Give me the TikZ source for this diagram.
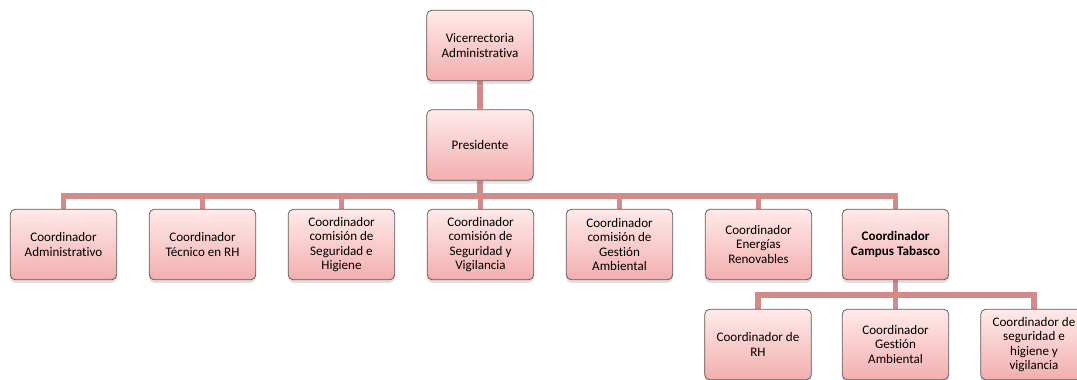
\documentclass[tikz,border=0pt]{standalone}
\usepackage{fontspec}
\setmainfont[Ligatures={NoCommon}]{Carlito}
\usetikzlibrary{shadows,backgrounds}

\definecolor{cajaArriba}{HTML}{FFEAEA}
\definecolor{cajaAbajo}{HTML}{F3AEAE}
\definecolor{linea}{HTML}{D38A8A}
\definecolor{borde}{HTML}{5E5E5E}

\tikzset{
	caja/.style={draw=borde, line width=0.6pt, rounded corners=4pt,
		top color=cajaArriba, bottom color=cajaAbajo,
		minimum width=80pt, minimum height=53pt, align=center,
		font=\fontsize{9.8}{10.9}\selectfont,
		drop shadow={shadow xshift=0pt, shadow yshift=-2.5pt, opacity=0.2, fill=black!60}},
	enlace/.style={draw=linea, line width=4.2pt}
}

\begin{document}
\begin{tikzpicture}[x=0.75pt, y=-0.75pt]
	\useasboundingbox (0,0) rectangle (1077,379);
	% nivel superior
	\node [caja] (vice) at (480,45.5) {Vicerrectoria\\Administrativa};
	\node [caja] (pres) at (480,145) {Presidente};
	% coordinadores
	\node [caja] (c1) at (63.5,244.5)  {Coordinador\\Administrativo};
	\node [caja] (c2) at (202.5,244.5) {Coordinador\\Técnico en RH};
	\node [caja] (c3) at (341.5,244.5) {Coordinador\\comisión de\\Seguridad e\\Higiene};
	\node [caja] (c4) at (480.5,244.5) {Coordinador\\comisión de\\Seguridad y\\Vigilancia};
	\node [caja] (c5) at (619.5,244.5) {Coordinador\\comisión de\\Gestión\\Ambiental};
	\node [caja] (c6) at (758.5,244.5) {Coordinador\\Energías\\Renovables};
	\node [caja, font=\fontsize{9.8}{10.9}\selectfont\bfseries] (c7) at (895.5,244.5) {Coordinador\\Campus Tabasco};
	% campus Tabasco
	\node [caja] (t1) at (758,344.5)  {Coordinador de\\RH};
	\node [caja] (t2) at (895.5,344.5) {Coordinador\\Gestión\\Ambiental};
	\node [caja] (t3) at (1034,344.5) {Coordinador de\\seguridad e\\higiene y\\vigilancia};

	% lineas
	\begin{scope}[on background layer]
		\draw [enlace] (vice) -- (pres);
		\foreach \n in {c1,c2,c3,c4,c5,c6,c7}
			\draw [enlace] (pres.south) -- ++(0,15) -| (\n.north);
		\foreach \n in {t1,t2,t3}
			\draw [enlace] (c7.south) -- ++(0,15) -| (\n.north);
	\end{scope}
\end{tikzpicture}
\end{document}
